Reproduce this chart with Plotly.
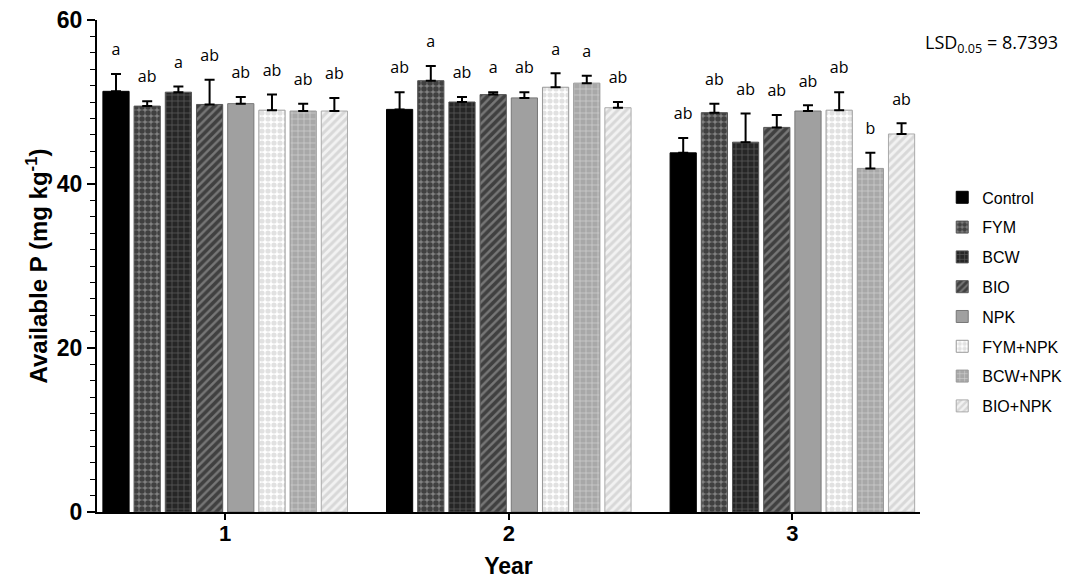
import plotly.graph_objects as go

years = [1, 2, 3]
treatments = ["Control", "FYM", "BCW", "BIO", "NPK", "FYM+NPK", "BCW+NPK", "BIO+NPK"]

control = [51.3, 49.1, 43.8]
fym = [49.5, 52.6, 48.7]
bcw = [51.2, 50.0, 45.1]
bio = [49.7, 50.9, 46.9]
npk = [49.8, 50.5, 48.9]
fym_npk = [49.0, 51.8, 49.0]
bcw_npk = [48.9, 52.3, 41.9]
bio_npk = [48.9, 49.3, 46.1]

err_control = [2.1, 2.1, 1.8]
err_fym = [0.6, 1.8, 1.1]
err_bcw = [0.7, 0.6, 3.5]
err_bio = [3.0, 0.3, 1.5]
err_npk = [0.8, 0.7, 0.7]
err_fym_npk = [1.9, 1.7, 2.2]
err_bcw_npk = [0.9, 0.9, 1.9]
err_bio_npk = [1.6, 0.7, 1.3]

let_control = ["a", "ab", "ab"]
let_fym = ["ab", "a", "ab"]
let_bcw = ["a", "ab", "ab"]
let_bio = ["ab", "a", "ab"]
let_npk = ["ab", "ab", "ab"]
let_fym_npk = ["ab", "a", "ab"]
let_bcw_npk = ["ab", "a", "b"]
let_bio_npk = ["ab", "ab", "ab"]

values = [control, fym, bcw, bio, npk, fym_npk, bcw_npk, bio_npk]
errors = [err_control, err_fym, err_bcw, err_bio, err_npk, err_fym_npk, err_bcw_npk, err_bio_npk]
letters = [let_control, let_fym, let_bcw, let_bio, let_npk, let_fym_npk, let_bcw_npk, let_bio_npk]

styles = [
    dict(color="#000000", pattern=dict(shape="")),
    dict(color="#777777", pattern=dict(shape=".", fgcolor="#000000", bgcolor="#808080", size=6, solidity=0.65)),
    dict(color="#333333", pattern=dict(shape="+", fgcolor="#8a8a8a", bgcolor="#262626", size=6, solidity=0.25)),
    dict(color="#555555", pattern=dict(shape="/", fgcolor="#0a0a0a", bgcolor="#777777", size=6, solidity=0.6)),
    dict(color="#a0a0a0", pattern=dict(shape="")),
    dict(color="#ffffff", pattern=dict(shape=".", fgcolor="#c4c4c4", bgcolor="#ffffff", size=6, solidity=0.6)),
    dict(color="#b0b0b0", pattern=dict(shape="+", fgcolor="#ffffff", bgcolor="#a8a8a8", size=6, solidity=0.2)),
    dict(color="#e0e0e0", pattern=dict(shape="/", fgcolor="#bdbdbd", bgcolor="#f2f2f2", size=6, solidity=0.5)),
]
line_colors = ["#000000", "#555555", "#555555", "#555555", "#777777", "#999999", "#999999", "#aaaaaa"]

fig = go.Figure()
for i, name in enumerate(treatments):
    fig.add_trace(go.Bar(
        x=years, y=values[i], name=name,
        legendgroup=name,
        marker=dict(color=styles[i]["color"], pattern=styles[i]["pattern"],
                    line=dict(color=line_colors[i], width=1)),
        error_y=dict(type="data", symmetric=False, array=errors[i],
                     arrayminus=[0] * len(years), color="#000000", thickness=2, width=5),
        offsetgroup=str(i),
    ))

for i, name in enumerate(treatments):
    tops = [v + e for v, e in zip(values[i], errors[i])]
    fig.add_trace(go.Scatter(
        x=years, y=tops, mode="markers+text", text=letters[i],
        textposition="top center",
        textfont=dict(family="Open Sans, DejaVu Sans, sans-serif", size=16, color="#000000"),
        marker=dict(size=22, opacity=0),
        showlegend=False, hoverinfo="skip",
        offsetgroup=str(i), legendgroup=name,
    ))

fig.add_annotation(
    text="LSD<sub>0.05</sub> = 8.7393", xref="paper", yref="paper",
    x=1.0, y=0.953, xanchor="left", yanchor="middle", showarrow=False,
    font=dict(family="Open Sans, sans-serif", size=18, color="#000000"),
    xshift=3,
)

fig.update_layout(
    width=1074, height=579,
    margin=dict(l=97, r=154, t=20, b=67, autoexpand=False),
    plot_bgcolor="#ffffff", paper_bgcolor="#ffffff",
    barmode="group", bargap=0.12, bargroupgap=0.16,
    scattermode="group", scattergap=0.12,
    font=dict(family="Liberation Sans, Arial, sans-serif", color="#000000"),
    legend=dict(x=1.027, y=0.674, xanchor="left", yanchor="top",
                font=dict(size=16, family="Liberation Sans, Arial, sans-serif", color="#000000"),
                tracegroupgap=6, itemwidth=30, bgcolor="rgba(0,0,0,0)"),
    showlegend=True,
)

fig.update_xaxes(
    range=[0.548, 3.45], tickvals=years, ticktext=["1", "2", "3"],
    showline=True, linecolor="#000000", linewidth=2,
    ticks="outside", ticklen=6, tickwidth=2, tickcolor="#000000",
    ticklabelstandoff=-5,
    showgrid=False, zeroline=False, automargin=False,
    tickfont=dict(size=22, family="Liberation Sans, Arial, sans-serif", weight="bold", color="#000000"),
    title=dict(text="<b>Year</b>", font=dict(size=23, family="Liberation Sans, Arial, sans-serif", color="#000000"), standoff=23),
)
fig.update_yaxes(
    range=[0, 60], tickvals=[0, 20, 40, 60],
    showline=True, linecolor="#000000", linewidth=2,
    ticks="outside", ticklen=8, tickwidth=2, tickcolor="#000000",
    ticklabeloverflow="allow",
    minor=dict(dtick=2, ticks="outside", ticklen=5, tickwidth=1, tickcolor="#000000", showgrid=False),
    showgrid=False, zeroline=False, automargin=False,
    tickfont=dict(size=23, family="Liberation Sans, Arial, sans-serif", weight="bold", color="#000000"),
    title=dict(text="<b>Available P (mg kg<sup>-1</sup>)</b>", font=dict(size=24, family="Liberation Sans, Arial, sans-serif", color="#000000"), standoff=2),
)

fig.write_html("out.html", config={"displayModeBar": False},
               post_script="document.body.style.margin='0px';")
